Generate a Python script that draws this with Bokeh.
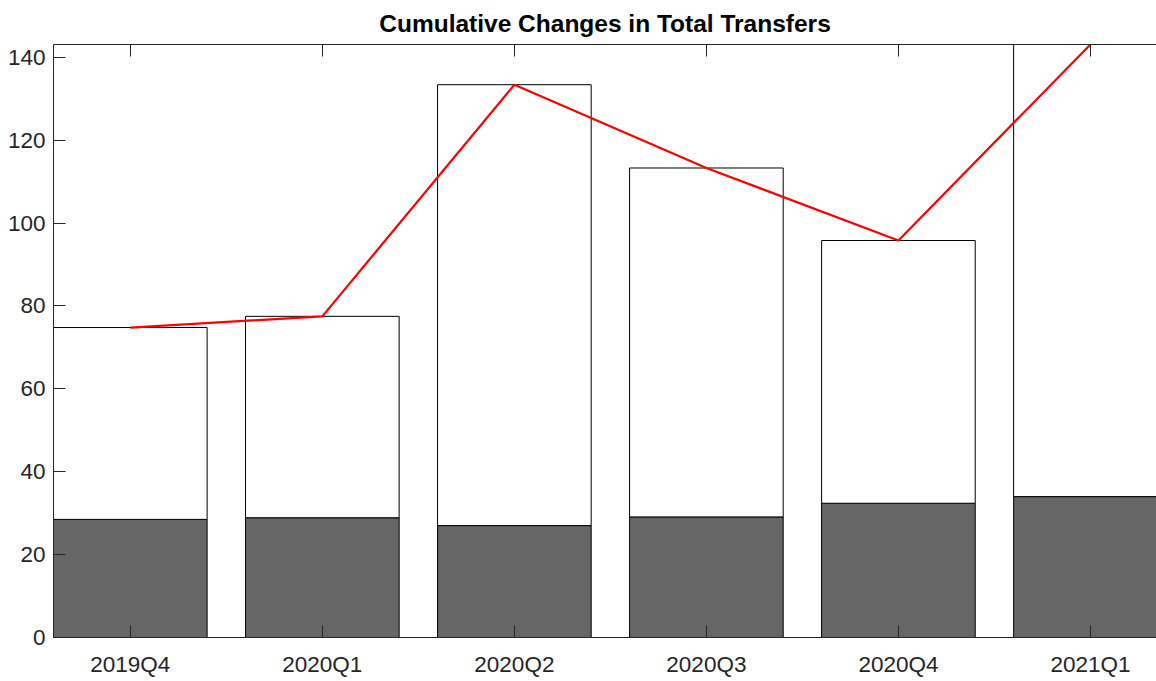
from bokeh.plotting import figure
from bokeh.models import Range1d, FixedTicker, LinearAxis, ColumnDataSource
from bokeh.embed import file_html
from bokeh.resources import INLINE

quarters = ["2019Q4", "2020Q1", "2020Q2", "2020Q3", "2020Q4", "2021Q1"]
base_values = [28.5, 28.9, 27.0, 29.1, 32.4, 34.0]
total_values = [74.8, 77.5, 133.4, 113.3, 95.8, 143.1]

xs = list(range(len(quarters)))
src = ColumnDataSource(dict(x=xs, base=base_values, total=total_values))

FONT = "Liberation Sans"
AX = "#262626"

p = figure(width=1156, height=681, output_backend="svg", toolbar_location=None,
           x_range=Range1d(-0.4, 5.344), y_range=Range1d(0, 143.1),
           min_border_left=53, min_border_right=0, min_border_top=44, min_border_bottom=44,
           title="Cumulative Changes in Total Transfers")
p.xgrid.visible = False
p.ygrid.visible = False
p.outline_line_color = None
p.background_fill_color = "white"
p.border_fill_color = "white"

p.title.text_font = FONT
p.title.text_font_size = "24.5px"
p.title.text_font_style = "bold"
p.title.text_color = "black"
p.title.align = "center"
p.title.offset = 4
p.title.standoff = 15

p.vbar(x="x", width=0.8, bottom=0, top="base", source=src,
       fill_color="#666666", line_color="black", line_width=1)
p.vbar(x="x", width=0.8, bottom="base", top="total", source=src,
       fill_color="white", line_color="black", line_width=1)
p.line(x="x", y="total", source=src, line_color="#ff0000", line_width=2.2)

# axes
xa = p.xaxis[0]
xa.ticker = FixedTicker(ticks=xs)
xa.major_label_overrides = {i: q for i, q in enumerate(quarters)}
ya = p.yaxis[0]
ya.ticker = FixedTicker(ticks=[0, 20, 40, 60, 80, 100, 120, 140])

for ax in (xa, ya):
    ax.axis_line_color = AX
    ax.axis_line_width = 1
    ax.major_tick_line_color = AX
    ax.major_tick_in = 12
    ax.major_tick_out = 0
    ax.minor_tick_line_color = None
    ax.major_label_text_font = FONT
    ax.major_label_text_font_size = "22.5px"
    ax.major_label_text_color = AX
xa.major_label_standoff = 14
ya.major_label_standoff = 8

top = LinearAxis(ticker=FixedTicker(ticks=xs), major_label_overrides={i: "" for i in xs})
top.axis_line_color = AX
top.major_tick_line_color = AX
top.major_tick_in = 12
top.major_tick_out = 0
top.minor_tick_line_color = None
top.major_label_text_font_size = "0px"
top.major_label_standoff = 0
p.add_layout(top, "above")

open("out.html", "w").write(file_html(p, INLINE))
